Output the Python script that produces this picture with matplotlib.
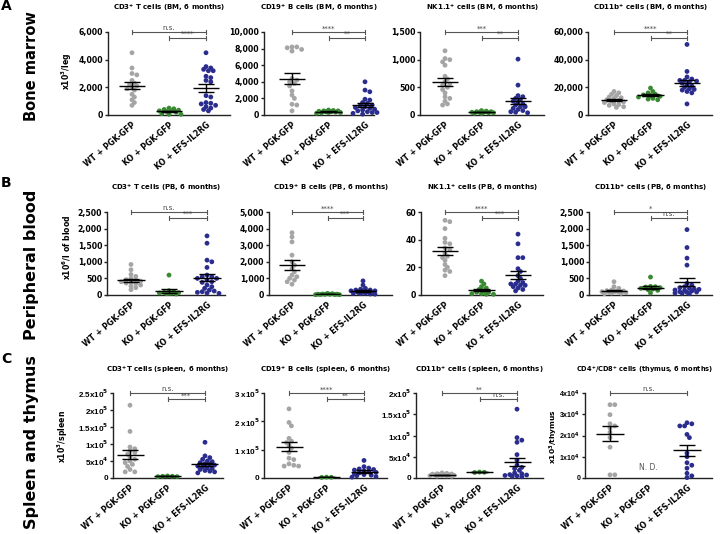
import numpy as np
import matplotlib
matplotlib.use('Agg')
import matplotlib.pyplot as plt
import matplotlib.transforms as mtransforms

plt.rcParams['font.family'] = ['DejaVu Sans']
plt.rcParams['font.weight'] = 'bold'
plt.rcParams['mathtext.fontset'] = 'custom'
plt.rcParams['mathtext.rm'] = 'DejaVu Sans:bold'
plt.rcParams['mathtext.it'] = 'DejaVu Sans:bold'
plt.rcParams['mathtext.bf'] = 'DejaVu Sans:bold'
plt.rcParams['mathtext.default'] = 'rm'

# ---------------- data ----------------
groups = ['WT + PGK-GFP', 'KO + PGK-GFP', 'KO + EFS-IL2RG']

bm_cd3_wt = [4500, 3400, 3000, 2900, 2500, 2300, 2200, 2100, 2000, 1900, 1800, 1500, 1300, 1100, 900, 700]
bm_cd3_ko = [500, 450, 400, 350, 300, 300, 250, 200, 100, 50, 50]
bm_cd3_efs = [4500, 3500, 3400, 3300, 3200, 3200, 2800, 2700, 2500, 2400, 1400, 1300, 900, 850, 800, 700, 600, 500, 400, 300]

bm_cd19_wt = [8200, 8200, 8100, 7900, 7700, 4000, 4400, 4200, 3800, 3500, 2900, 2400, 2000, 1300, 1200, 500]
bm_cd19_ko = [600, 550, 500, 500, 450, 400, 400, 350, 300, 300, 250, 200]
bm_cd19_efs = [4000, 3000, 2800, 1900, 1800, 1500, 1400, 1200, 1100, 1000, 900, 800, 700, 600, 500, 400, 300, 300, 200, 100]

bm_nk_wt = [1160, 1020, 1000, 960, 900, 700, 650, 600, 560, 540, 500, 460, 400, 330, 300, 250, 200, 180]
bm_nk_ko = [80, 70, 60, 60, 50, 50, 50, 40, 40, 30, 30]
bm_nk_efs = [1010, 540, 350, 330, 300, 280, 250, 230, 200, 180, 150, 150, 120, 100, 80, 60, 50, 40]

bm_cd11b_wt = [17000, 16000, 15000, 14000, 13000, 12500, 12000, 11000, 10500, 10000, 9500, 9000, 8000, 7500, 7000, 6000, 5500]
bm_cd11b_ko = [19500, 17000, 16000, 15000, 14500, 14000, 13500, 13000, 12000, 11500, 11000]
bm_cd11b_efs = [51000, 31500, 27500, 26000, 25000, 25000, 24500, 24000, 23000, 22000, 21000, 20000, 19000, 18500, 18000, 17000, 16000, 8000]

pb_cd3_wt = [920, 760, 620, 560, 500, 460, 440, 420, 400, 380, 360, 340, 300, 270, 220, 160]
pb_cd3_ko = [600, 130, 100, 80, 70, 60, 50, 50, 40, 30]
pb_cd3_efs = [1780, 1560, 1050, 1000, 830, 600, 550, 500, 550, 500, 450, 400, 380, 300, 250, 200, 150, 120, 100, 80, 60, 50]

pb_cd19_wt = [3750, 3500, 3200, 2400, 2000, 1800, 1600, 1400, 1200, 1100, 1000, 900, 800, 650]
pb_cd19_ko = [100, 80, 60, 50, 50, 40, 40, 30, 30, 20, 20]
pb_cd19_efs = [850, 600, 400, 350, 300, 300, 250, 250, 200, 200, 150, 150, 100, 100, 80, 60, 50]

pb_nk_wt = [54, 53, 48, 41, 38, 37, 34, 33, 30, 28, 27, 25, 22, 20, 18, 17, 14]
pb_nk_ko = [10, 8, 6, 5, 4, 3, 2, 2, 1, 1, 0.5, 0.5]
pb_nk_efs = [44, 37, 27, 27, 19, 17, 14, 12, 10, 9, 8, 8, 7, 7, 6, 5, 4, 3]

pb_cd11b_wt = [400, 250, 200, 150, 130, 120, 110, 100, 100, 90, 80, 70, 60, 50, 40]
pb_cd11b_ko = [540, 260, 250, 240, 220, 200, 180, 160, 140, 60]
pb_cd11b_efs = [1970, 1430, 1110, 900, 350, 300, 250, 220, 200, 180, 170, 150, 140, 120, 100, 90, 80, 60, 50, 40]

sp_cd3_wt = [214000, 137000, 91000, 86000, 80000, 75000, 70000, 62000, 55000, 50000, 45000, 40000, 34000, 25000, 18000, 18000]
sp_cd3_ko = [6000, 5000, 5000, 4000, 4000]
sp_cd3_efs = [105000, 65000, 60000, 55000, 50000, 48000, 45000, 42000, 40000, 38000, 35000, 33000, 30000, 28000, 25000, 22000, 20000, 18000, 15000]

sp_cd19_wt = [244000, 196000, 184000, 140000, 130000, 125000, 115000, 105000, 90000, 70000, 65000, 50000, 45000, 42000, 42000]
sp_cd19_ko = [3000, 2500, 2000]
sp_cd19_efs = [62000, 40000, 35000, 32000, 30000, 28000, 25000, 22000, 20000, 18000, 15000, 12000, 10000, 8000, 5000, 3000]

sp_cd11b_wt = [12000, 11000, 10000, 9500, 9000, 8500, 8000, 7500, 7000, 6500, 6000, 5500, 5000, 4500, 4000]
sp_cd11b_ko = [14000, 13500, 13000]
sp_cd11b_efs = [162000, 95000, 89000, 84000, 55000, 42000, 30000, 25000, 22000, 18000, 12000, 10000, 8000, 7000, 6000, 5000, 4000, 3000]

thy_cd48_wt = [34500, 34500, 29800, 25500, 24500, 23500, 21500, 19000, 14500, 1500, 1500]
thy_cd48_ko = []
thy_cd48_efs = [26000, 25500, 24500, 24500, 20500, 19000, 11700, 10000, 7200, 6000, 4600, 2200, 1000, 200]

titles = ['CD3$^{+}$ T cells (BM, 6 months)', 'CD19$^{+}$ B cells (BM, 6 months)',
          'NK1.1$^{+}$ cells (BM, 6 months)', 'CD11b$^{+}$ cells (BM, 6 months)',
          'CD3$^{+}$ T cells (PB, 6 months)', 'CD19$^{+}$ B cells (PB, 6 months)',
          'NK1.1$^{+}$ cells (PB, 6 months)', 'CD11b$^{+}$ cells (PB, 6 months)',
          'CD3$^{+}$T cells (spleen, 6 months)', 'CD19$^{+}$ B cells (spleen, 6 months)',
          'CD11b$^{+}$ cells (spleen, 6 months)', 'CD4$^{+}$/CD8$^{+}$ cells (thymus, 6 months)']

yticks = [[0, 2000, 4000, 6000], [0, 2000, 4000, 6000, 8000, 10000], [0, 500, 1000, 1500], [0, 20000, 40000, 60000],
          [0, 500, 1000, 1500, 2000, 2500], [0, 1000, 2000, 3000, 4000, 5000], [0, 20, 40, 60], [0, 500, 1000, 1500, 2000, 2500],
          [0, 50000, 100000, 150000, 200000, 250000], [0, 100000, 200000, 300000],
          [0, 50000, 100000, 150000, 200000], [0, 10000, 20000, 30000, 40000]]
c1_labels = ['0', '5x10$^{4}$', '1x10$^{5}$', '1.5x10$^{5}$', '2x10$^{5}$', '2.5x10$^{5}$']
c2_labels = ['0', '1 x10$^{5}$', '2 x10$^{5}$', '3 x10$^{5}$']
c3_labels = ['0', '5x10$^{4}$', '1x10$^{5}$', '1.5x10$^{5}$', '2x10$^{5}$']
c4_labels = ['0', '1x10$^{4}$', '2x10$^{4}$', '3x10$^{4}$', '4x10$^{4}$']

signif = [('n.s.', '****'), ('****', '**'), ('***', '**'), ('****', '**'),
          ('n.s.', '***'), ('****', '***'), ('****', '***'), ('*', 'n.s.'),
          ('n.s.', '***'), ('****', '**'), ('**', 'n.s.'), ('n.s.', None)]

datasets = [(bm_cd3_wt, bm_cd3_ko, bm_cd3_efs), (bm_cd19_wt, bm_cd19_ko, bm_cd19_efs),
            (bm_nk_wt, bm_nk_ko, bm_nk_efs), (bm_cd11b_wt, bm_cd11b_ko, bm_cd11b_efs),
            (pb_cd3_wt, pb_cd3_ko, pb_cd3_efs), (pb_cd19_wt, pb_cd19_ko, pb_cd19_efs),
            (pb_nk_wt, pb_nk_ko, pb_nk_efs), (pb_cd11b_wt, pb_cd11b_ko, pb_cd11b_efs),
            (sp_cd3_wt, sp_cd3_ko, sp_cd3_efs), (sp_cd19_wt, sp_cd19_ko, sp_cd19_efs),
            (sp_cd11b_wt, sp_cd11b_ko, sp_cd11b_efs), (thy_cd48_wt, thy_cd48_ko, thy_cd48_efs)]

# ---------------- layout (pixels) ----------------
W, H = 721, 534
# left axis x, right end, first group x, last group x, top y, bottom y
boxes = [(108, 230, 132, 206, 32, 115), (264, 374, 292, 365, 32, 115),
         (420, 544, 445, 518, 32, 115), (588, 712, 614, 687, 32, 115),
         (107, 225, 131, 207, 212, 295), (269, 392, 292, 363, 212, 295),
         (421, 543, 445, 518, 212, 295), (589, 712, 614, 687, 212, 295),
         (113, 223, 130, 205, 393, 478), (264, 387, 289, 364, 393, 478),
         (416, 543, 442, 517, 393, 478), (585, 712, 610, 687, 393, 478)]

colors = ['#a5a5a5', '#3a8a33', '#2b2d8e']
DIAM = 4.8
MAXW = 14.0  # max horizontal half-spread in pixels


def swarm(vals, ppx, ppy, diam=DIAM):
    vals = np.asarray(vals, dtype=float)
    offs = np.zeros(len(vals))
    placed = []
    order = np.argsort(-vals, kind='stable')
    step = diam * 0.5
    cands = [0.0]
    j = 1
    while j * step <= MAXW:
        cands += [j * step, -j * step]
        j += 1
    thr = 0.75 * diam
    for i in order:
        y = vals[i] * ppy
        best, bestd = 0.0, -1.0
        chosen = None
        for c in cands:
            d = min([np.hypot(c - px, y - py) for (px, py) in placed] + [1e9])
            if d >= thr:
                chosen = c
                break
            if d > bestd + 0.3:
                best, bestd = c, d
        if chosen is None:
            chosen = best
        placed.append((chosen, y))
        offs[i] = chosen / ppx
    return offs


fig = plt.figure(figsize=(W / 100, H / 100), dpi=100)

for k, (box, data) in enumerate(zip(boxes, datasets)):
    l, r, g0, g2, t, b = box
    unit = (g2 - g0) / 2.0
    ax = fig.add_axes([l / W, 1 - b / H, (r - l) / W, (b - t) / H])
    ymax = yticks[k][-1]
    ax.set_xlim((l - g0) / unit, (r - g0) / unit)
    ax.set_ylim(0, ymax)
    ppy = (b - t) / ymax
    for gi, vals in enumerate(data):
        if len(vals) == 0:
            continue
        offs = swarm(vals, unit, ppy)
        ax.scatter(gi + offs, vals, s=(DIAM * 0.72) ** 2, color=colors[gi], edgecolors='none',
                   clip_on=False, zorder=3)
        m = np.mean(vals)
        se = np.std(vals, ddof=1) / np.sqrt(len(vals))
        ax.hlines(m, gi - 0.36, gi + 0.36, color='black', lw=1.0, zorder=4)
        ax.hlines([m - se, m + se], gi - 0.22, gi + 0.22, color='black', lw=1.0, zorder=4)
        ax.vlines(gi, m - se, m + se, color='black', lw=1.0, zorder=4)
    if k == 11:
        ax.text(1, 5000, 'N. D.', ha='center', va='center', fontsize=5.5, color='#555555',
                fontweight='normal')
    for s in ['top', 'right']:
        ax.spines[s].set_visible(False)
    for s in ['left', 'bottom']:
        ax.spines[s].set_linewidth(1.0)
        ax.spines[s].set_color('#222222')
    ax.set_yticks(yticks[k])
    if k < 8:
        ax.set_yticklabels(['{:,}'.format(v) for v in yticks[k]])
        ax.tick_params(axis='y', labelsize=5.6)
    else:
        lab = [c1_labels, c2_labels, c3_labels, c4_labels][k - 8]
        ax.set_yticklabels(lab, fontfamily='Liberation Sans', fontsize=5.8 if k < 11 else 5.0)
    ax.tick_params(axis='y', length=2.2, width=1.0, pad=1.2, color='#222222')
    ax.set_xticks([0, 1, 2])
    ax.set_xticklabels(groups, rotation=40, ha='right', rotation_mode='anchor', fontsize=5.6)
    ax.tick_params(axis='x', length=0, pad=4)

    # brackets
    tr = mtransforms.blended_transform_factory(ax.transData, ax.transAxes)
    top_txt, low_txt = signif[k]
    for (x0, x1, yy, txt) in [(0, 2, 1.0, top_txt), (1, 2, 0.93, low_txt)]:
        if txt is None:
            continue
        ax.plot([x0, x1], [yy, yy], color='#555555', lw=0.8, transform=tr, clip_on=False)
        for xe in (x0, x1):
            ax.plot([xe, xe], [yy - 0.025, yy + 0.025], color='#555555', lw=0.8,
                    transform=tr, clip_on=False)
        ax.text((x0 + x1) / 2, yy + 0.008, txt, transform=tr, ha='center', va='bottom',
                fontsize=5, color='#444444', fontweight='normal')

    # title
    cx = (l + r) / 2 if k != 11 else 645
    fig.text(cx / W, 1 - (t - 23) / H, titles[k], ha='center', va='center',
             fontsize=5.0 if k != 11 else 4.8)

# y labels
fig.text(67 / W, 1 - 71 / H, 'x10$^{3}$/leg', rotation=90, ha='center', va='center', fontsize=5.6)
fig.text(67 / W, 1 - 247 / H, 'x10$^{6}$/l of blood', rotation=90, ha='center', va='center', fontsize=5.6)
fig.text(63 / W, 1 - 437 / H, 'x10$^{3}$/spleen', rotation=90, ha='center', va='center', fontsize=5.6)
fig.text(554 / W, 1 - 436 / H, 'x10$^{3}$/thymus', rotation=90, ha='center', va='center', fontsize=5.4)

# row labels
fig.text(32 / W, 1 - 66 / H, 'Bone marrow', rotation=90, ha='center', va='center', fontsize=10.5)
fig.text(32 / W, 1 - 265 / H, 'Peripheral blood', rotation=90, ha='center', va='center', fontsize=11.5)
fig.text(32 / W, 1 - 442 / H, 'Spleen and thymus', rotation=90, ha='center', va='center', fontsize=11.5)

# panel letters
fig.text(6 / W, 1 - 6 / H, 'A', ha='center', va='center', fontsize=10)
fig.text(6 / W, 1 - 183 / H, 'B', ha='center', va='center', fontsize=10)
fig.text(6 / W, 1 - 359 / H, 'C', ha='center', va='center', fontsize=10)

fig.savefig('out.png', dpi=100)
